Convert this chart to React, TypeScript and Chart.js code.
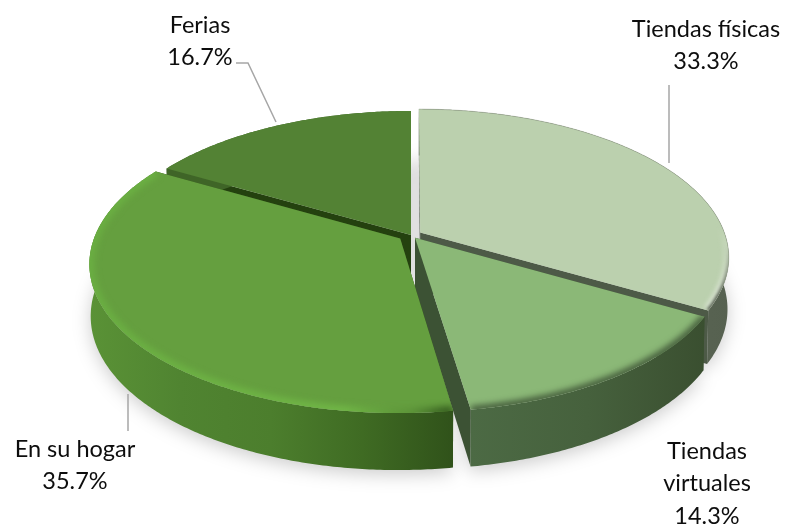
import React, { useEffect, useRef } from "react";
import { Chart, registerables } from "chart.js";

Chart.register(...registerables);

// Shares of each point of sale, clockwise from twelve o'clock.
const categories = ["Tiendas físicas", "Tiendas virtuales", "En su hogar", "Ferias"];
const shares = [33.3, 14.3, 35.7, 16.7];
const explodePx = [9, 6, 11, 0];

// Slice styling, in the same order as the categories.
const faceColors = ["#bbd0ae", "#8bb877", "#659f3f", "#538234"];
const cutColors = ["#4d5a47", "#3c5234", "#2f5018", "#24410f"];
const wallStops = [
  ["#4f5b49", "#5f6a59", "#566150"],
  ["#4c6a44", "#46613d", "#3a4f30"],
  ["#5a9236", "#508431", "#4c7e2d", "#3f6b23", "#30521a"],
  ["#3f6527", "#3f6527"],
];
const labelLines = [["Tiendas físicas"], ["Tiendas", "virtuales"], ["En su hogar"], ["Ferias"]];
const labelAnchors: [number, number][] = [
  [706, 29],
  [707, 451],
  [75, 449],
  [200, 25],
];
const leaderLines: [number, number][][] = [
  [[669, 85], [669, 163]],
  [],
  [[128, 394], [128, 431]],
  [[236, 63], [248, 63], [276, 122]],
];

// Ground plane of the disc: centre, radii, perspective strength and thickness.
const CX = 411;
const CY = 235;
const RX = 305;
const RY = 144.5;
const PERSPECTIVE = 0.165;
const THICKNESS = 51;
const PAINT_ORDER = [3, 0, 1, 2];

type Pt = [number, number];

// Maps a point of the unit disc to the page, nearer points appearing larger.
const project = (u: number, v: number, drop = 0): Pt => {
  const w = 1 / (1 - PERSPECTIVE * v);
  const squeeze = drop ? 0.996 : 1;
  return [CX + RX * u * w * squeeze, CY + RY * v * w + drop * Math.pow(w, 0.6)];
};

const sliceGeometry = (arc: any) => {
  const e = (arc.options.offset || 0) / arc.outerRadius;
  const mid = (arc.startAngle + arc.endAngle) / 2;
  const ou = e * Math.cos(mid);
  const ov = e * Math.sin(mid);
  const at = (a: number, drop = 0) => project(ou + Math.cos(a), ov + Math.sin(a), drop);
  const apex = (drop = 0) => project(ou, ov, drop);
  const rim = (drop = 0) => {
    const pts: Pt[] = [];
    const n = Math.ceil((arc.endAngle - arc.startAngle) / 0.01);
    for (let i = 0; i <= n; i++) {
      pts.push(at(arc.startAngle + ((arc.endAngle - arc.startAngle) * i) / n, drop));
    }
    return pts;
  };
  return { at, apex, rim };
};

const tracePoly = (ctx: CanvasRenderingContext2D, pts: Pt[], close = true) => {
  ctx.beginPath();
  pts.forEach((p, i) => (i ? ctx.lineTo(p[0], p[1]) : ctx.moveTo(p[0], p[1])));
  if (close) ctx.closePath();
};

const drawRimGlow = (
  ctx: CanvasRenderingContext2D,
  face: Pt[],
  rim: Pt[],
  style: string | CanvasGradient,
  width: number,
  blur: number
) => {
  ctx.save();
  tracePoly(ctx, face);
  ctx.clip();
  ctx.filter = `blur(${blur}px)`;
  ctx.strokeStyle = style;
  ctx.lineWidth = width;
  tracePoly(ctx, rim, false);
  ctx.stroke();
  ctx.restore();
};

const discPlugin = {
  id: "perspectiveDisc",
  beforeDatasetsDraw(chart: any) {
    const { ctx } = chart;
    const arcs = chart.getDatasetMeta(0).data;
    const geos = arcs.map(sliceGeometry);

    // Soft shadow on the ground below the disc.
    ctx.save();
    ctx.filter = "blur(9px)";
    ctx.fillStyle = "rgba(0,0,0,0.2)";
    geos.forEach((g: any) => {
      tracePoly(ctx, [g.apex(THICKNESS + 4), ...g.rim(THICKNESS + 4)]);
      ctx.fill();
    });
    ctx.restore();

    PAINT_ORDER.forEach((i) => {
      const arc = arcs[i];
      const g = geos[i];
      const top = g.rim();
      const bottom = g.rim(THICKNESS);
      const first = top[0];
      const last = top[top.length - 1];

      // The two radial cut faces.
      ctx.fillStyle = cutColors[i];
      tracePoly(ctx, [g.apex(), first, bottom[0], g.apex(THICKNESS)]);
      ctx.fill();
      tracePoly(ctx, [g.apex(), last, bottom[bottom.length - 1], g.apex(THICKNESS)]);
      ctx.fill();

      // Outer wall.
      const xs = top.map((p: Pt) => p[0]);
      const grad = ctx.createLinearGradient(Math.min(...xs), 0, Math.max(...xs), 0);
      wallStops[i].forEach((c, s) => grad.addColorStop(s / (wallStops[i].length - 1), c));
      ctx.fillStyle = grad;
      tracePoly(ctx, [...top, ...bottom.slice().reverse()]);
      ctx.fill();

      // Top face with its softened edge.
      const face: Pt[] = [g.apex(), ...top];
      ctx.fillStyle = arc.options.backgroundColor;
      tracePoly(ctx, face);
      ctx.fill();

      if (i === 0) {
        const fade = ctx.createLinearGradient(0, 225, 0, 290);
        fade.addColorStop(0, "rgba(236,240,232,0)");
        fade.addColorStop(1, "rgba(236,240,232,0.7)");
        drawRimGlow(ctx, face, top, fade, 10, 2.5);
        const dark = ctx.createLinearGradient(0, 245, 0, 295);
        dark.addColorStop(0, "rgba(90,100,84,0)");
        dark.addColorStop(1, "rgba(90,100,84,1)");
        drawRimGlow(ctx, face, top, dark, 4, 1.5);
        ctx.strokeStyle = "rgba(120,130,112,0.35)";
        ctx.lineWidth = 1;
        tracePoly(ctx, top, false);
        ctx.stroke();
      } else if (i === 1) {
        drawRimGlow(ctx, face, top, "#3f5537", 7, 3);
      } else if (i === 2) {
        const glow = ctx.createLinearGradient(90, 0, 455, 0);
        glow.addColorStop(0, "#6aae42");
        glow.addColorStop(0.7, "#70b646");
        glow.addColorStop(0.88, "rgba(90,145,55,0.8)");
        glow.addColorStop(0.97, "rgba(55,95,32,0.95)");
        drawRimGlow(ctx, face, top, glow, 10, 3);
      }
    });

    // Leader lines and labels.
    ctx.strokeStyle = "#a6a6a6";
    ctx.lineWidth = 1.5;
    leaderLines.forEach((line) => {
      if (!line.length) return;
      tracePoly(ctx, line as Pt[], false);
      ctx.stroke();
    });

    ctx.fillStyle = "#0d0d0d";
    ctx.font = '23.5px Lato, "Open Sans", sans-serif';
    ctx.textAlign = "center";
    ctx.textBaseline = "middle";
    labelLines.forEach((lines, i) => {
      const [x, y] = labelAnchors[i];
      [...lines, `${shares[i].toFixed(1)}%`].forEach((text, n) => {
        ctx.fillText(text, x, y + n * 32.5);
      });
    });
    return false;
  },
};

export default function App() {
  const ref = useRef<HTMLCanvasElement>(null);
  useEffect(() => {
    const chart = new Chart(ref.current!, {
      type: "pie",
      data: {
        labels: categories,
        datasets: [{ data: shares, backgroundColor: faceColors, offset: explodePx, borderWidth: 0 }],
      },
      options: {
        responsive: false,
        animation: false,
        plugins: { legend: { display: false }, tooltip: { enabled: false } },
      },
      plugins: [discPlugin],
    } as any);
    return () => chart.destroy();
  }, []);
  return (
    <div style={{ position: "absolute", left: 0, top: 0, width: 788, height: 527, background: "#fff" }}>
      <canvas ref={ref} width={788} height={527} style={{ display: "block" }} />
    </div>
  );
}
